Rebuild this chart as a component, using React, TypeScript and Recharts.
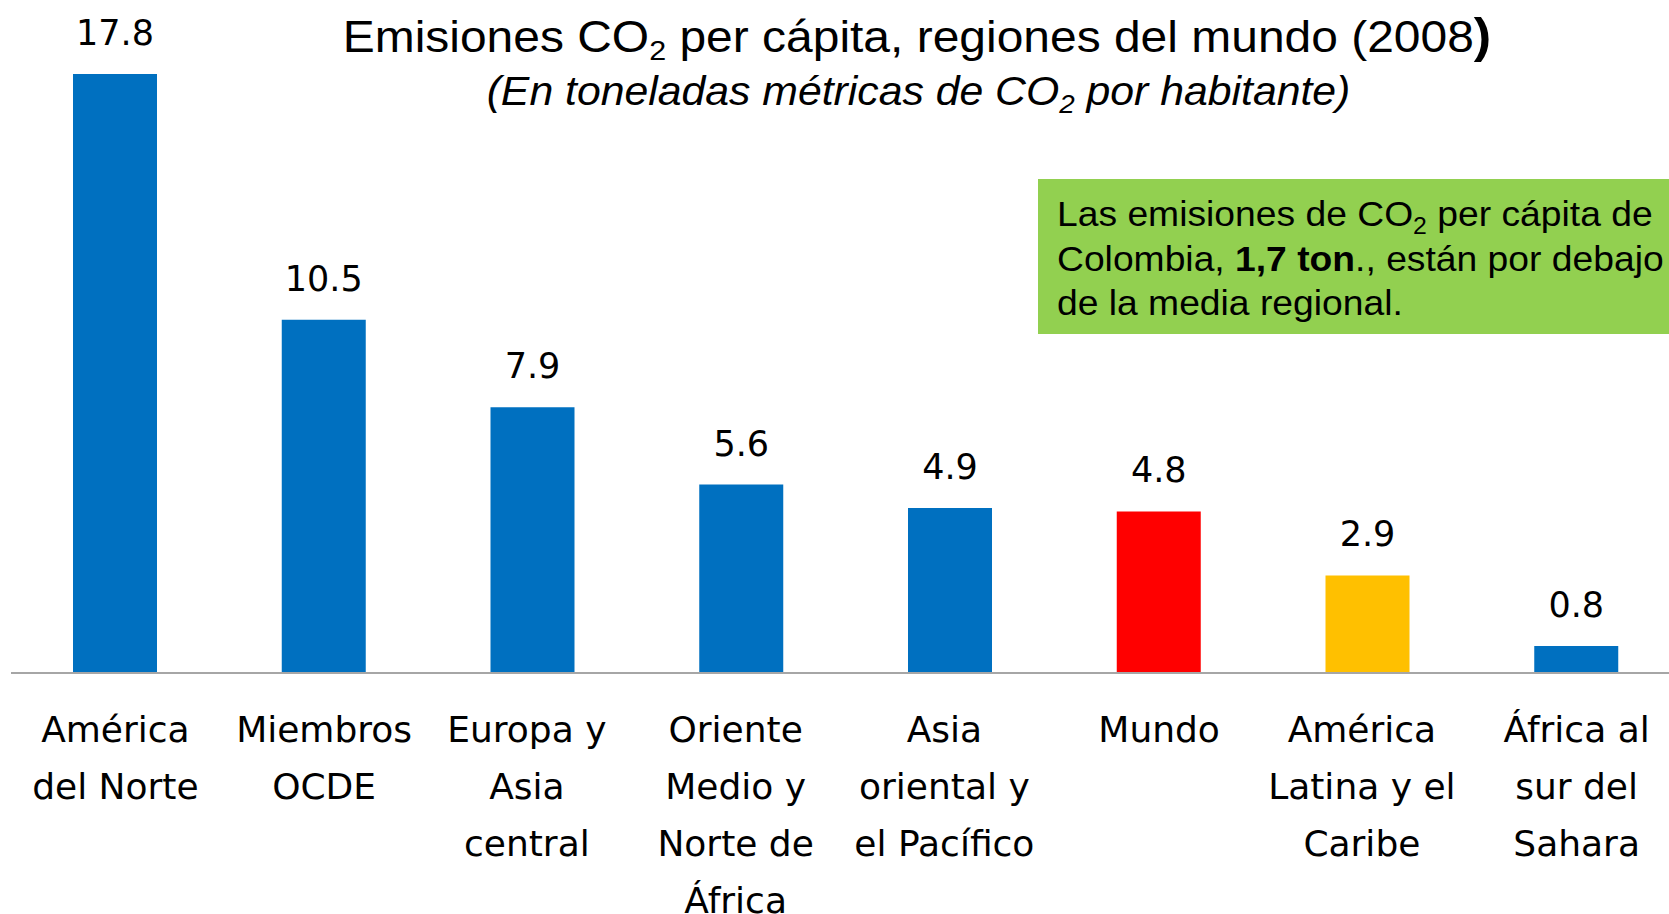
import { Bar, BarChart, Cell, LabelList, XAxis, YAxis } from 'recharts'

const regions = [
  'América\ndel Norte',
  'Miembros\nOCDE',
  'Europa y\nAsia\ncentral',
  'Oriente\nMedio y\nNorte de\nÁfrica',
  'Asia\noriental y\nel Pacífico',
  'Mundo',
  'América\nLatina y el\nCaribe',
  'África al\nsur del\nSahara',
]
const emissions = [17.8, 10.5, 7.9, 5.6, 4.9, 4.8, 2.9, 0.8]

const title = 'Emisiones CO'
const titleRest = ' per cápita, regiones del mundo (2008'
const subtitle = '(En toneladas métricas de CO'
const subtitleRest = ' por habitante)'
const noteLines = ['Las emisiones de CO', 'Colombia, ', 'de la media regional.']

const BLUE = '#0070C0'
const barColor = (name: string) =>
  name === 'Mundo' ? '#FF0000' : name.startsWith('América\nLatina') ? '#FFC000' : BLUE

const data = regions.map((name, i) => ({ name, value: emissions[i] }))

const LABEL_FONT = '"DejaVu Sans", Verdana, sans-serif'
const TEXT_FONT = '"Liberation Sans", Arial, sans-serif'

function RegionTick(props: any) {
  const { y, payload } = props
  const lines = String(payload.value).split('\n')
  // the longer wrapped labels sit a little left of the bar centre in the original
  const shift = lines.length > 2 && payload.index < regions.length - 1 ? -6 : 0
  const x = props.x + shift
  return (
    <text x={x} y={y + 69} textAnchor="middle" fontFamily={LABEL_FONT} fontSize={36} fill="#000">
      {lines.map((l, i) => (
        <tspan key={i} x={x} dy={i === 0 ? 0 : 57}>
          {l}
        </tspan>
      ))}
    </text>
  )
}

function ValueLabel(props: any) {
  const { x, y, width, value } = props
  return (
    <text x={x + width / 2} y={y - 29} textAnchor="middle" fontFamily={LABEL_FONT} fontSize={35} fill="#000">
      {Number(value).toFixed(1)}
    </text>
  )
}

export default function App() {
  return (
    <div style={{ position: 'fixed', left: 0, top: 0, width: 1669, height: 914, overflow: 'hidden', background: '#fff' }}>
      <div style={{ position: 'absolute', left: 0, top: 0 }}>
        <BarChart width={1700} height={914} data={data} margin={{ top: 0, right: 19, left: 11, bottom: 0 }}>
          <YAxis hide domain={[0, 20]} />
          <XAxis
            dataKey="name"
            height={241}
            tickLine={false}
            tickSize={0}
            tickMargin={0}
            interval={0}
            axisLine={{ stroke: '#A6A6A6', strokeWidth: 2 }}
            tick={<RegionTick />}
          />
          <Bar dataKey="value" barSize={84} isAnimationActive={false}>
            {data.map((d) => (
              <Cell key={d.name} fill={barColor(d.name)} />
            ))}
            <LabelList dataKey="value" content={<ValueLabel />} />
          </Bar>
        </BarChart>
      </div>
      <svg width={1669} height={914} style={{ position: 'absolute', left: 0, top: 0, pointerEvents: 'none' }}>
        <g transform="translate(917 0) scale(1.09 1)">
          <text x={0} y={52} textAnchor="middle" fontFamily={TEXT_FONT} fontSize={44} fill="#000">
            {title}
            <tspan fontSize={28} dy={8}>2</tspan>
            <tspan dy={-8}>{titleRest}</tspan>
            <tspan fontWeight="bold" fontSize={48}>)</tspan>
          </text>
        </g>
        <g transform="translate(918.5 0) scale(1.069 1)">
          <text x={0} y={105} textAnchor="middle" fontFamily={TEXT_FONT} fontSize={40} fontStyle="italic" fill="#000">
            {subtitle}
            <tspan fontSize={26} dy={8}>2</tspan>
            <tspan dy={-8}>{subtitleRest}</tspan>
          </text>
        </g>
        <rect x={1038} y={179} width={640} height={155} fill="#92D050" />
        <g transform="translate(1057 0) scale(1.035 1)">
          <text fontFamily={TEXT_FONT} fontSize={36} fill="#000">
            <tspan x={0} y={226}>{noteLines[0]}</tspan>
            <tspan fontSize={24} dy={8}>2</tspan>
            <tspan dy={-8}> per cápita de</tspan>
            <tspan x={0} y={271}>{noteLines[1]}</tspan>
            <tspan fontWeight="bold">1,7 ton</tspan>
            <tspan>., están por debajo</tspan>
            <tspan x={0} y={315}>{noteLines[2]}</tspan>
          </text>
        </g>
      </svg>
    </div>
  )
}
